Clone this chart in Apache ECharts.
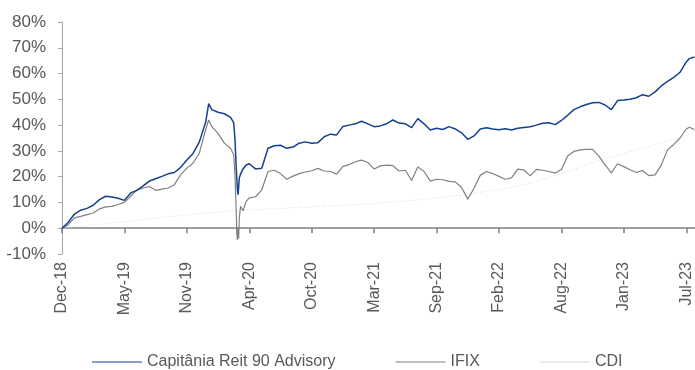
<!DOCTYPE html>
<html>
<head>
<meta charset="utf-8">
<script src="https://cdn.jsdelivr.net/npm/echarts@6/dist/echarts.min.js"></script>
<style>
  html, body { margin: 0; padding: 0; background: #ffffff; }
  #chart { width: 695px; height: 370px; }
</style>
</head>
<body>
<div id="chart"></div>
<script>
// Period labels shown under the axis, one per tick (index = tick position)
const tickLabels = ['Dec-18', 'May-19', 'Nov-19', 'Apr-20', 'Oct-20', 'Mar-21',
                    'Sep-21', 'Feb-22', 'Aug-22', 'Jan-23', 'Jul-23'];

// Observation positions (in label periods) shared by the fund and IFIX
const steps = [
  0, 0.1, 0.2, 0.3, 0.4, 0.5, 0.6, 0.7, 0.8, 0.9,
  1.0, 1.1, 1.2, 1.3, 1.4, 1.5, 1.6, 1.7, 1.8, 1.9,
  2.0, 2.1, 2.2, 2.3, 2.35, 2.4, 2.5, 2.6, 2.7,
  2.75, 2.77, 2.79, 2.80, 2.81, 2.82, 2.83, 2.84, 2.86, 2.9, 2.95,
  3.0, 3.1, 3.2, 3.3, 3.4, 3.5, 3.6, 3.7, 3.8, 3.9,
  4.0, 4.1, 4.2, 4.3, 4.4, 4.5, 4.6, 4.7, 4.8, 4.9,
  5.0, 5.1, 5.2, 5.3, 5.4, 5.5, 5.6, 5.7, 5.8, 5.9,
  6.0, 6.1, 6.2, 6.3, 6.4, 6.5, 6.6, 6.7, 6.8, 6.9,
  7.0, 7.1, 7.2, 7.3, 7.4, 7.5, 7.6, 7.7, 7.8, 7.9,
  8.0, 8.1, 8.2, 8.3, 8.4, 8.5, 8.6, 8.7, 8.8, 8.9,
  9.0, 9.1, 9.2, 9.3, 9.4, 9.5, 9.6, 9.7, 9.8, 9.9,
  10.0, 10.05, 10.13
];

// Capitânia Reit 90 Advisory, cumulative return (%)
const fundValues = [
  0, 2.3, 5.5, 7.0, 7.7, 8.9, 11.1, 12.4, 12.1, 11.6,
  10.8, 13.7, 14.7, 16.4, 18.3, 19.2, 20.1, 21.1, 21.6, 23.6,
  26.5, 29.0, 33.5, 41.0, 48.3, 46.0, 45.0, 44.4, 43.0,
  41.0, 35.0, 24.0, 19.0, 15.0, 13.0, 16.0, 19.5, 21.0, 23.0, 24.5,
  25.0, 23.0, 23.3, 31.0, 32.0, 32.2, 31.0, 31.5, 33.0, 33.5,
  33.0, 33.2, 35.5, 36.5, 36.2, 39.5, 40.0, 40.5, 41.5, 40.5,
  39.4, 39.7, 40.5, 42.0, 40.8, 40.5, 39.0, 42.5, 40.5, 38.1,
  38.8, 38.3, 39.4, 38.5, 37.0, 34.5, 35.8, 38.5, 39.0, 38.5,
  38.2, 38.6, 38.1, 38.8, 39.1, 39.4, 40.0, 40.7, 40.9, 40.2,
  41.8, 43.8, 46.0, 47.1, 48.0, 48.7, 48.8, 47.8, 46.0, 49.5,
  49.7, 50.0, 50.6, 51.8, 51.2, 52.9, 55.2, 57.0, 58.5, 60.5,
  64.5, 65.8, 66.4
];

// IFIX, cumulative return (%)
const ifixValues = [
  0, 1.4, 4.0, 4.6, 5.3, 5.9, 7.5, 8.3, 8.5, 9.2,
  10.0, 12.4, 14.9, 15.6, 16.2, 14.7, 15.2, 15.6, 16.9, 20.7,
  23.3, 25.3, 29.1, 38.1, 42.0, 39.4, 36.8, 33.0, 31.0,
  28.5, 21.0, 7.0, -2.0, -4.5, 0.5, -4.0, 4.0, 8.5, 6.8, 10.4,
  11.8, 12.2, 14.9, 22.0, 22.5, 21.2, 19.0, 20.2, 21.2, 21.8,
  22.3, 23.2, 22.2, 22.0, 21.0, 24.0, 24.7, 25.8, 26.4, 25.5,
  23.0, 24.2, 24.5, 24.3, 22.2, 22.5, 18.5, 23.8, 22.0, 18.3,
  19.0, 18.8, 18.2, 18.0, 15.8, 11.3, 15.5, 20.5, 22.0, 21.2,
  20.1, 19.0, 19.5, 22.9, 22.6, 20.3, 22.8, 22.5, 22.0, 21.4,
  22.8, 28.0, 29.8, 30.4, 30.6, 30.6, 28.0, 24.6, 21.5, 25.0,
  23.9, 22.7, 21.6, 22.4, 20.4, 20.7, 24.5, 30.4, 32.5, 35.0,
  38.5, 39.2, 38.3
];

// CDI, cumulative return (%)
const cdiSteps = [0, 0.5, 1, 1.5, 2, 2.5, 3, 3.5, 4, 4.5, 5, 5.5,
                  6, 6.5, 7, 7.5, 8, 8.5, 9, 9.5, 10, 10.13];
const cdiValues = [0, 1.3, 2.6, 3.9, 5.2, 6.3, 7.1, 7.7, 8.3, 8.9, 9.6, 10.5,
                   11.7, 13.2, 15.0, 17.5, 21.0, 25.5, 29.0, 32.5, 36.0, 37.0];

const pairs = (xs, ys) => xs.map((x, i) => [x, ys[i]]);
const tickPositions = tickLabels.map((_, i) => i);

const FONT = 'Liberation Sans';
const TEXT_GREY = '#595959';
const chart = echarts.init(document.getElementById('chart'), null, { renderer: 'canvas' });

chart.setOption({
  animation: false,
  backgroundColor: '#ffffff',
  grid: { left: 62, right: 0, top: 22, bottom: 116, containLabel: false },
  legend: {
    top: 349,
    left: 87,
    itemWidth: 50,
    itemHeight: 14,
    itemGap: 60,
    textStyle: { fontFamily: FONT, fontSize: 16, color: TEXT_GREY },
    data: [
      { name: 'Capitânia Reit 90 Advisory', icon: 'path://M0,6.4 L50,6.4 L50,7.6 L0,7.6 Z' },
      { name: 'IFIX', icon: 'path://M0,6.5 L50,6.5 L50,7.5 L0,7.5 Z' },
      { name: 'CDI', icon: 'path://M0,6.5 L50,6.5 L50,7.5 L0,7.5 Z' }
    ]
  },
  xAxis: {
    type: 'value',
    min: 0,
    max: 10.14,
    interval: 1,
    axisLine: { onZero: true, lineStyle: { color: '#7f7f7f', width: 1.5 } },
    axisTick: { show: true, length: 5, lineStyle: { color: '#7f7f7f', width: 1.5 }, customValues: tickPositions },
    axisLabel: {
      customValues: tickPositions,
      rotate: 90,
      margin: 8,
      fontFamily: FONT,
      fontSize: 16,
      color: TEXT_GREY,
      formatter: v => tickLabels[Math.round(v)] || ''
    },
    splitLine: { show: false }
  },
  yAxis: {
    type: 'value',
    min: -10,
    max: 80,
    interval: 10,
    axisLine: { show: true, lineStyle: { color: '#a6a6a6', width: 1 } },
    axisTick: { show: true, inside: false, length: 4, lineStyle: { color: '#a6a6a6' } },
    axisLabel: {
      margin: 16,
      fontFamily: FONT,
      fontSize: 17,
      color: TEXT_GREY,
      formatter: v => v + '%'
    },
    splitLine: { show: false }
  },
  series: [
    {
      name: 'Capitânia Reit 90 Advisory',
      type: 'line',
      data: pairs(steps, fundValues),
      showSymbol: false,
      symbol: 'none',
      z: 4,
      color: '#14408f',
      lineStyle: { color: '#14408f', width: 1.5 }
    },
    {
      name: 'IFIX',
      type: 'line',
      data: pairs(steps, ifixValues),
      showSymbol: false,
      symbol: 'none',
      z: 3,
      color: '#808080',
      lineStyle: { color: '#808080', width: 1.2 }
    },
    {
      name: 'CDI',
      type: 'line',
      data: pairs(cdiSteps, cdiValues),
      showSymbol: false,
      symbol: 'none',
      z: 2,
      color: '#d9d9d9',
      lineStyle: { color: '#d9d9d9', width: 1, type: [1, 2] }
    }
  ]
});
</script>
</body>
</html>
